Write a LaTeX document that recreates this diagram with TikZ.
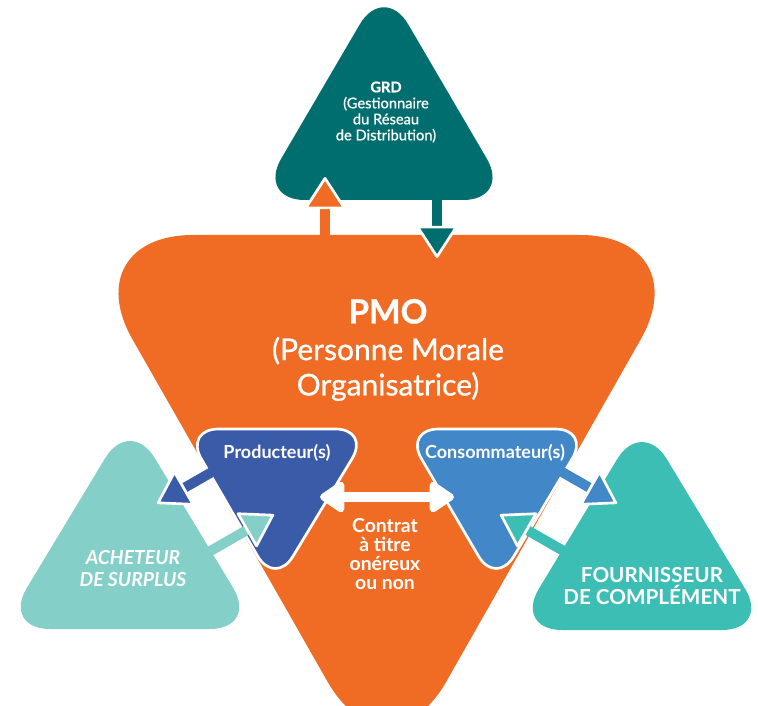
\documentclass[tikz,border=0pt]{standalone}
\usepackage{fontspec}
\setmainfont{Lato}
\newfontfamily\mediumfont[FakeBold=0.8]{Lato}
\usetikzlibrary{arrows.meta}
\definecolor{pmoorange}{RGB}{240,108,36}
\definecolor{grdteal}{RGB}{0,109,111}
\definecolor{prodblue}{RGB}{58,91,168}
\definecolor{consoblue}{RGB}{66,135,199}
\definecolor{achetteal}{RGB}{132,207,199}
\definecolor{fournteal}{RGB}{61,190,180}
\tikzset
{
    zone/.style    = {fill=#1, rounded corners=36pt},
    bigzone/.style = {fill=#1, rounded corners=90pt},
    acteur/.style  = {fill=#1, draw=white, line width=2pt, rounded corners=26pt, line join=round},
    flow/.style    = {line width=7.5pt, draw=#1, -{Triangle[width=32pt,length=25pt,color=white,fill=#1,line width=2pt,round]}},
    sideflow/.style = {line width=7.5pt, draw=#1, -{Triangle[width=31pt,length=25pt,color=white,fill=#1,line width=2pt,round]}},
    echange/.style = {line width=7.5pt, draw=white, {Triangle[width=26pt,length=20.5pt,round]}-{Triangle[width=26pt,length=20.5pt,round]}},
    lbl/.style     = {text=white, align=center, inner sep=0pt}
}

\begin{document}
\begin{tikzpicture}[x=0.75pt, y=-0.75pt]
	\useasboundingbox (0,0) rectangle (758,706);
	\fill[zone=grdteal] (384,200) -- (511,200) -- (384,-17) -- (257,200) -- cycle;
	\fill[bigzone=pmoorange] (386,235) -- (700,235) -- (387,786) -- (73,235) -- cycle;
	\fill[zone=achetteal] (130,629) -- (2,629) -- (130,417) -- (258,629) -- cycle;
	\fill[zone=fournteal] (642,630) -- (514,630) -- (642,418) -- (770,630) -- cycle;
	\draw[acteur=prodblue] (277,429) -- (370,429) -- (275,586) -- (184,429) -- cycle;
	\draw[acteur=consoblue] (497,429) -- (590,429) -- (496,586) -- (404,429) -- cycle;

	\coordinate (pmo-out) at (325,236);
	\coordinate (grd-in) at (325,177);
	\coordinate (grd-out) at (437,199);
	\coordinate (pmo-in) at (437,258);
	\coordinate (prod-out) at (213.7,471);
	\coordinate (achet-in) at (157,503.5);
	\coordinate (achet-out) at (206,553.5);
	\coordinate (prod-in) at (274,514.5);
	\coordinate (conso-out) at (560.3,471);
	\coordinate (fourn-in) at (617,503.5);
	\coordinate (fourn-out) at (568,553.5);
	\coordinate (conso-in) at (500,514.5);
	\coordinate (prod-right) at (320,497);
	\coordinate (conso-left) at (454,497);

	\draw[flow=pmoorange] (pmo-out) -- (grd-in);
	\draw[flow=grdteal] (grd-out) -- (pmo-in);
	\draw[sideflow=prodblue] (prod-out) -- (achet-in);
	\draw[sideflow=achetteal] (achet-out) -- (prod-in);
	\draw[sideflow=consoblue] (conso-out) -- (fourn-in);
	\draw[sideflow=fournteal] (fourn-out) -- (conso-in);
	\draw[echange] (prod-right) -- (conso-left);

	\node[lbl, font=\fontsize{11}{12}\mediumfont] (grd) at (386,112)
		{{\bfseries GRD}\\(Gestionnaire\\du Réseau\\de Distribution)};
	\node[lbl, font=\fontsize{22.5}{26.5}\mediumfont] (pmo) at (388,350)
		{{\fontsize{25}{27}\selectfont\bfseries PMO}\\[1pt](Personne Morale\\Organisatrice)};
	\node[lbl, font=\fontsize{13.5}{15}\selectfont\bfseries] (prod) at (277,453) {Producteur(s)};
	\node[lbl, font=\fontsize{13.5}{15}\selectfont\bfseries] (conso) at (495,453) {Consommateur(s)};
	\node[lbl, font=\fontsize{14.5}{14.3}\selectfont\bfseries] (contrat) at (385,554)
		{Contrat\\à titre\\onéreux\\ou non};
	\node[lbl, font=\fontsize{14.5}{16.5}\selectfont\bfseries\itshape] (acheteur) at (133,569)
		{ACHETEUR\\DE SURPLUS};
	\node[lbl, font=\fontsize{15.5}{16.5}\selectfont\bfseries] (fournisseur) at (652,586)
		{FOURNISSEUR\\DE COMPLÉMENT};
\end{tikzpicture}
\end{document}
